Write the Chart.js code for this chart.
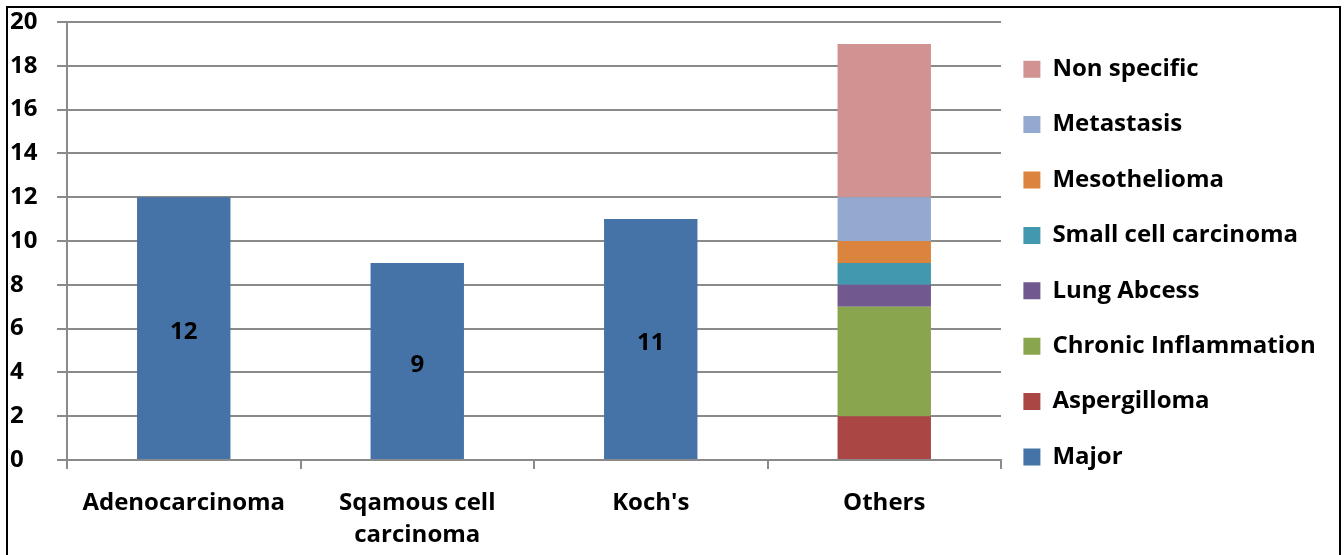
<!DOCTYPE html>
<html>
<head>
<meta charset="utf-8">
<script src="https://cdn.jsdelivr.net/npm/chart.js@4.4.1/dist/chart.umd.min.js"></script>
<style>
    html, body { margin: 0; padding: 0; background: #fff; overflow: hidden; }
    #wrap { position: relative; width: 1344px; height: 555px; }
    #frame { position: absolute; left: 6px; top: 6px; width: 1331px; height: 600px; border: 2px solid #000; pointer-events: none; }
</style>
</head>
<body>
<div id="wrap">
    <canvas id="chart" width="1344" height="555"></canvas>
    <div id="frame"></div>
</div>
<script>
// categories on the x axis
const categories = ['Adenocarcinoma', ['Sqamous cell', 'carcinoma'], "Koch's", 'Others'];

// series values, one per category
const major = [12, 9, 11, 0];
const aspergilloma = [0, 0, 0, 2];
const chronicInflammation = [0, 0, 0, 5];
const lungAbcess = [0, 0, 0, 1];
const smallCell = [0, 0, 0, 1];
const mesothelioma = [0, 0, 0, 1];
const metastasis = [0, 0, 0, 2];
const nonSpecific = [0, 0, 0, 7];

// y axis range
const yMin = 0;
const yMax = 20;
const yStep = 2;

const gridColor = '#8a8a8a';
const fontFamily = '"Open Sans", Lato, sans-serif';
const fontSize = 24;

const series = [
    { label: 'Major', data: major, color: '#4572A7' },
    { label: 'Aspergilloma', data: aspergilloma, color: '#AA4643' },
    { label: 'Chronic Inflammation', data: chronicInflammation, color: '#89A54E' },
    { label: 'Lung Abcess', data: lungAbcess, color: '#71588F' },
    { label: 'Small cell carcinoma', data: smallCell, color: '#4198AF' },
    { label: 'Mesothelioma', data: mesothelioma, color: '#DB843D' },
    { label: 'Metastasis', data: metastasis, color: '#93A9CF' },
    { label: 'Non specific', data: nonSpecific, color: '#D19392' }
];

// small plugin: nudge legend and write the values inside the Major bars
const chartTweaks = {
    id: 'chartTweaks',
    afterLayout(chart) {
        const lg = chart.legend;
        lg.left = chart.chartArea.right - 9;
        lg.right = chart.width;
        lg.width = lg.right - lg.left;
        lg.top += 3.8;
    },
    afterDatasetsDraw(chart) {
        const ctx = chart.ctx;
        const meta = chart.getDatasetMeta(0);
        ctx.save();
        ctx.font = 'bold ' + fontSize + 'px ' + fontFamily;
        ctx.fillStyle = '#000';
        ctx.textAlign = 'center';
        ctx.textBaseline = 'middle';
        meta.data.forEach((bar, i) => {
            const v = major[i];
            if (!v) return;
            const p = bar.getProps(['x', 'y', 'base'], true);
            ctx.fillText(String(v), p.x, (p.y + p.base) / 2 + 4);
        });
        ctx.restore();
    }
};

new Chart(document.getElementById('chart').getContext('2d'), {
    type: 'bar',
    data: {
        labels: categories,
        datasets: series.map(s => ({
            label: s.label,
            data: s.data,
            backgroundColor: s.color,
            borderWidth: 0,
            categoryPercentage: 1,
            barPercentage: 0.4
        }))
    },
    plugins: [chartTweaks],
    options: {
        responsive: false,
        animation: false,
        layout: { padding: { top: 22, bottom: 0, left: 10, right: 43 } },
        plugins: {
            tooltip: { enabled: false },
            legend: {
                position: 'right',
                align: 'start',
                reverse: true,
                maxWidth: 300,
                labels: {
                    boxWidth: 17,
                    boxHeight: 17,
                    padding: 31.4,
                    color: '#000',
                    font: { family: fontFamily, size: fontSize, weight: 'bold' }
                }
            }
        },
        scales: {
            x: {
                stacked: true,
                afterFit(scale) { scale.height = 95; },
                grid: {
                    display: true,
                    drawOnChartArea: false,
                    drawTicks: true,
                    tickLength: 9,
                    offset: true,
                    color: gridColor,
                    lineWidth: 2
                },
                border: { color: gridColor, width: 2 },
                ticks: {
                    color: '#000',
                    padding: 18,
                    maxRotation: 0,
                    autoSkip: false,
                    font: { family: fontFamily, size: fontSize, weight: 'bold', lineHeight: 1.35 }
                }
            },
            y: {
                stacked: true,
                min: yMin,
                max: yMax,
                afterFit(scale) { scale.width = 57; },
                grid: {
                    color: gridColor,
                    lineWidth: 2,
                    tickLength: 10
                },
                border: { color: gridColor, width: 2 },
                ticks: {
                    stepSize: yStep,
                    color: '#000',
                    padding: 0,
                    crossAlign: 'far',
                    font: { family: fontFamily, size: fontSize, weight: 'bold' }
                }
            }
        }
    }
});
</script>
</body>
</html>
